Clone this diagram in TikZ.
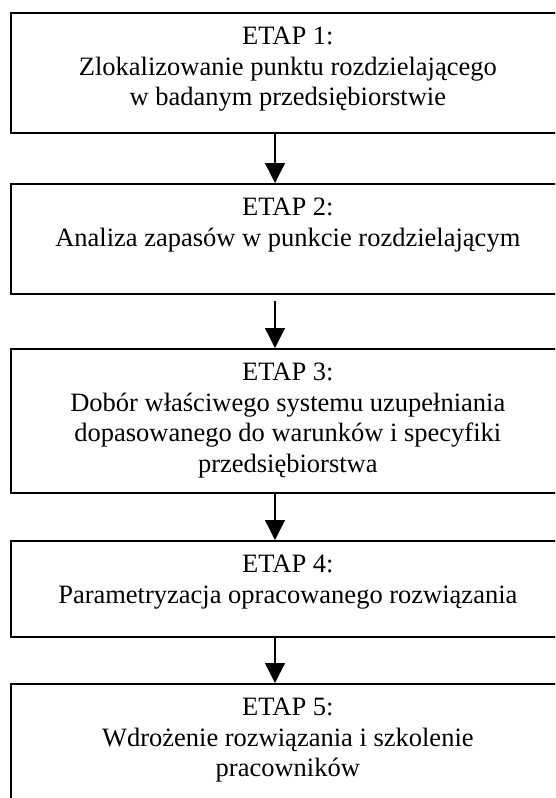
\documentclass[tikz,border=0pt]{standalone}
\usepackage{fontspec}
\setmainfont{Liberation Serif}
\usetikzlibrary{arrows.meta, positioning}

\begin{document}
\begin{tikzpicture}[x=1pt, y=-1pt,
        stage/.style={draw, line width=1.6pt, rectangle, minimum width=554pt, inner sep=0pt, anchor=north west},
        stagetext/.style={align=center, anchor=north, inner sep=0pt, font=\fontsize{26.5}{30.5}\selectfont},
        flow/.style={-{Triangle[width=20pt, length=20pt]}, line width=1.3pt}]
        \useasboundingbox (0,0) rectangle (555,798);
        \clip (0,0) rectangle (555,798);

        % boxes
        \node[stage, minimum height=120pt] (s1) at (10,12) {};
        \node[stage, minimum height=110pt] (s2) at (10,183) {};
        \node[stage, minimum height=144pt] (s3) at (10,348) {};
        \node[stage, minimum height=96pt] (s4) at (10,540) {};
        \node[stage, minimum height=150pt] (s5) at (10,683) {};

        % texts
        \node[stagetext] (t1) at ([yshift=-15pt]s1.north) {ETAP 1:\\ Zlokalizowanie punktu rozdzielającego\\ w badanym przedsiębiorstwie};
        \node[stagetext] (t2) at ([yshift=-15pt]s2.north) {ETAP 2:\\ Analiza zapasów w punkcie rozdzielającym};
        \node[stagetext] (t3) at ([yshift=-15pt]s3.north) {ETAP 3:\\ Dobór właściwego systemu uzupełniania\\ dopasowanego do warunków i specyfiki\\ przedsiębiorstwa};
        \node[stagetext] (t4) at ([yshift=-15pt]s4.north) {ETAP 4:\\ Parametryzacja opracowanego rozwiązania};
        \node[stagetext] (t5) at ([yshift=-15pt]s5.north) {ETAP 5:\\ Wdrożenie rozwiązania i szkolenie\\ pracowników};

        % arrows
        \coordinate (axis) at (275,0);
        \draw[flow] (s1.south -| axis) -- (s2.north -| axis);
        \draw[flow, shorten <=6pt] (s2.south -| axis) -- (s3.north -| axis);
        \draw[flow] (s3.south -| axis) -- (s4.north -| axis);
        \draw[flow] (s4.south -| axis) -- (s5.north -| axis);
\end{tikzpicture}
\end{document}
